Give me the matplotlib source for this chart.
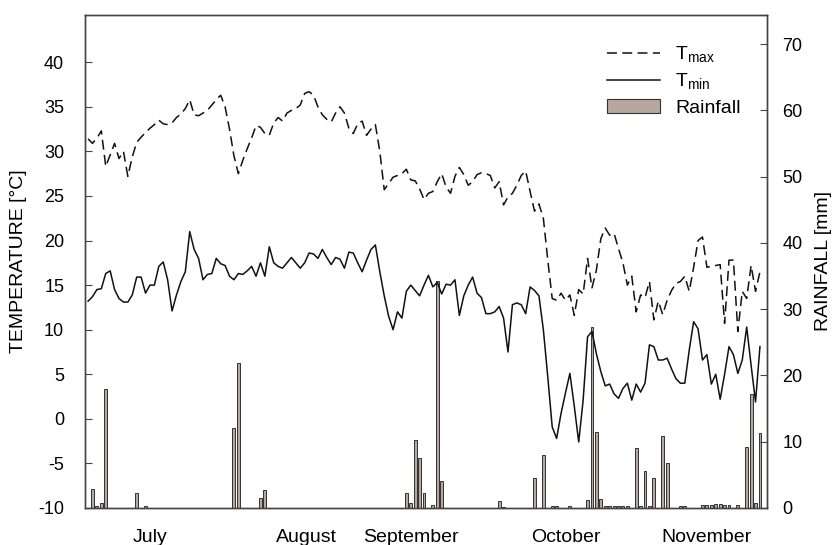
import matplotlib
matplotlib.use("Agg")
import matplotlib.pyplot as plt
from matplotlib.patches import Patch
from matplotlib.lines import Line2D

plt.rcParams['font.family'] = ['Liberation Sans', 'DejaVu Sans']
plt.rcParams['mathtext.fontset'] = 'custom'
plt.rcParams['mathtext.rm'] = 'Liberation Sans'
plt.rcParams['axes.unicode_minus'] = False

# daily values, 1 July .. 30 November
tmax = [31.4, 30.9, 31.5, 32.3, 28.3, 29.6, 30.9, 29.2, 30.0, 27.2,
        29.4, 31.0, 31.6, 32.1, 32.6, 33.0, 33.5, 33.1, 33.0, 33.2,
        33.8, 34.2, 34.8, 35.8, 34.1, 34.0, 34.3, 34.6, 35.2, 35.8,
        36.3, 35.0, 32.5, 29.5, 27.5, 29.0, 30.3, 31.5, 32.9, 32.7,
        32.0, 31.8, 33.2, 33.8, 33.4, 34.3, 34.6, 34.8, 35.2, 36.5,
        36.7, 36.3, 35.0, 34.1, 33.6, 33.3, 34.3, 35.0, 34.3, 32.6,
        32.0, 33.1, 33.4, 31.8, 32.5, 33.0, 30.0, 25.7, 26.4, 27.1,
        27.3, 27.5, 28.0, 26.8, 26.7, 25.8, 24.6, 25.3, 25.5, 26.6,
        27.5, 26.0, 25.3, 27.2, 28.2, 27.4, 26.2, 26.6, 27.4, 27.6,
        27.5, 27.3, 25.9, 26.6, 24.0, 24.9, 25.3, 26.2, 27.3, 27.8,
        25.5, 23.3, 24.1, 22.5, 17.8, 13.5, 13.3, 14.1, 13.3, 13.9,
        11.6, 14.5, 14.0, 18.0, 14.7, 16.7, 20.2, 21.4, 20.6, 20.8,
        19.1, 17.5, 15.0, 16.0, 12.0, 13.9, 13.6, 15.4, 11.1, 13.2,
        11.7, 13.3, 14.4, 15.2, 15.4, 16.0, 14.3, 17.0, 20.0, 20.4,
        17.0, 17.1, 17.2, 17.3, 10.7, 17.8, 17.8, 9.8, 14.3, 13.5,
        17.2, 14.3, 16.5]

tmin = [13.2, 13.7, 14.5, 14.6, 16.3, 16.6, 14.5, 13.5, 13.1, 13.1,
        13.9, 15.9, 15.9, 14.1, 15.0, 15.0, 17.1, 17.6, 15.6, 12.1,
        13.9, 15.4, 16.5, 21.0, 19.0, 18.0, 15.6, 16.2, 16.3, 18.0,
        17.4, 17.2, 16.0, 15.6, 16.3, 16.2, 16.6, 17.1, 16.0, 17.5,
        16.0, 19.3, 17.5, 17.1, 16.9, 17.5, 18.1, 17.5, 16.9, 17.5,
        18.6, 18.5, 18.0, 19.0, 18.1, 17.3, 18.1, 17.9, 16.9, 18.7,
        18.6, 17.5, 16.5, 17.8, 19.0, 19.5, 16.5, 13.8, 11.5, 10.0,
        12.0, 11.3, 14.3, 15.0, 14.4, 13.8, 15.0, 16.1, 14.8, 15.3,
        14.0, 15.1, 15.0, 15.6, 11.6, 13.8, 15.0, 15.9, 14.1, 13.6,
        11.8, 11.8, 12.0, 12.6, 11.3, 7.5, 12.8, 13.0, 12.8, 11.8,
        14.8, 14.4, 13.8, 10.0, 4.7, -0.9, -2.2, 0.6, 2.9, 5.1,
        1.4, -2.6, 2.1, 9.2, 9.8, 7.3, 5.3, 3.7, 3.9, 2.8,
        2.3, 3.4, 4.0, 2.1, 3.9, 3.0, 4.0, 8.3, 8.1, 6.6,
        6.6, 6.8, 5.6, 4.5, 4.0, 4.0, 7.7, 10.9, 10.1, 6.6,
        7.2, 3.9, 5.0, 2.2, 5.0, 8.1, 7.2, 5.1, 6.6, 10.3,
        6.0, 1.9, 8.1]

rain_day = [1, 2, 3, 4, 11, 13, 33, 34, 39, 40,
            72, 73, 74, 75, 76, 78, 79, 80, 93, 94,
            101, 103, 105, 106, 109, 113, 114, 115, 116, 117,
            118, 119, 120, 121, 122, 124, 125, 126, 127, 128,
            130, 131, 134, 135, 139, 140, 141, 142, 143, 144,
            145, 147, 149, 150, 151, 152]
rain_mm = [2.8, 0.3, 0.7, 17.9, 2.3, 0.3, 12.1, 21.9, 1.5, 2.7,
           2.2, 0.8, 10.3, 7.5, 2.2, 0.4, 34.3, 4.0, 1.0, 0.2,
           4.5, 8.0, 0.3, 0.3, 0.3, 1.2, 27.3, 11.4, 1.4, 0.3,
           0.3, 0.3, 0.3, 0.3, 0.3, 9.0, 0.3, 5.6, 0.3, 4.5,
           10.9, 6.8, 0.3, 0.3, 0.5, 0.4, 0.5, 0.6, 0.6, 0.5,
           0.4, 0.5, 9.2, 17.2, 0.8, 11.3]

months = ['July', 'August', 'September', 'October', 'November']
month_pos = [14.0, 49.5, 73.1, 108.1, 139.8]

days = list(range(len(tmax)))

fig = plt.figure(figsize=(8.38, 5.45), dpi=100)
ax = fig.add_axes([0.1014, 0.0679, 0.8139, 0.9046])
ax2 = ax.twinx()

bar_col = '#b8a79e'
dash = (6.5, 3.5)
ax2.bar(rain_day, rain_mm, width=0.65, color=bar_col, edgecolor='#333333', linewidth=0.7)
ax.plot(days, tmax, color='#111111', lw=1.1, dashes=dash)
ax.plot(days, tmin, color='#111111', lw=1.1)

ax.set_zorder(ax2.get_zorder() + 1)
ax.patch.set_visible(False)

ax.set_xlim(-0.7, 153.6)
ax.set_ylim(-10, 45.3)
ax2.set_ylim(0, 74.4)
ax.set_yticks(range(-10, 41, 5))
ax2.set_yticks(range(0, 71, 10))
ax.set_xticks(month_pos)
ax.set_xticklabels(months)

ax.tick_params(axis='y', direction='in', length=5, labelsize=13, pad=15, color='#444444')
ax2.tick_params(axis='y', direction='in', length=5, labelsize=13, pad=11, color='#444444')
ax.tick_params(axis='x', length=0, labelsize=14, pad=15)

for a in (ax, ax2):
    for s in a.spines.values():
        s.set_color('#444444')
        s.set_linewidth(1.0)

ax.set_ylabel('TEMPERATURE [°C]', fontsize=14, labelpad=8)
ax2.set_ylabel('RAINFALL [mm]', fontsize=14, labelpad=9)

handles = [Line2D([], [], color='#111111', lw=1.1, dashes=dash),
           Line2D([], [], color='#111111', lw=1.1),
           Patch(facecolor=bar_col, edgecolor='#333333', linewidth=0.8)]
labels = ['T$_{\\mathrm{max}}$', 'T$_{\\mathrm{min}}$', 'Rainfall']
ax.legend(handles, labels, loc='upper left', bbox_to_anchor=(0.74, 0.975),
          frameon=False, fontsize=14, handlelength=2.7, handletextpad=0.8,
          labelspacing=0.35)

fig.savefig('out.png', dpi=100)
